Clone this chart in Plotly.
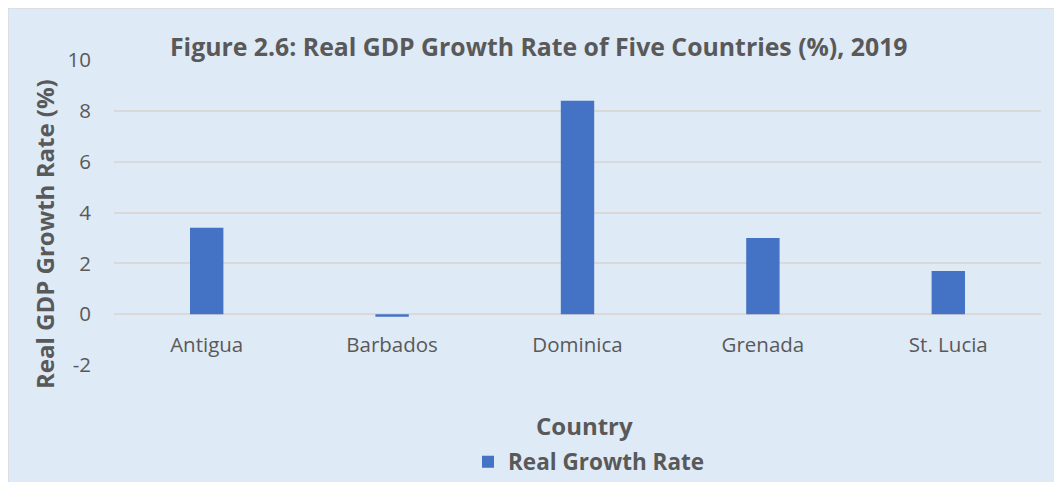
import plotly.graph_objects as go

countries = ["Antigua", "Barbados", "Dominica", "Grenada", "St. Lucia"]
growth = [3.4, -0.1, 8.4, 3.0, 1.7]
y_ticks = [-2, 0, 2, 4, 6, 8, 10]
y_ticktext = ["-2", "0", "2", "4", "6", "8", "10"]
series_name = "Real Growth Rate"
title_text = "Figure 2.6: Real GDP Growth Rate of Five Countries (%), 2019"

FONT = "Open Sans"
GRAY = "#595959"
BG = "#DEEAF6"

fig = go.Figure()
fig.add_trace(go.Bar(x=countries, y=growth, name="<b>" + series_name + "</b>",
                     marker=dict(color="#4472C4", line=dict(width=0)),
                     width=0.18))

OFF = 8  # page body margin
W, H = 1054, 474
L, T = 114 - OFF, 60 - OFF
R = (OFF + W) - 1041
B = (OFF + H) - 365
pw = W - L - R
ph = H - T - B


def px_x(sx):
    return (sx - OFF - L) / pw


def px_y(sy):
    return 1 - (sy - OFF - T) / ph


shapes = [
    dict(type="line", xref="paper", yref="paper", x0=px_x(8.5), x1=px_x(1070),
         y0=px_y(7.5), y1=px_y(7.5), line=dict(color="#D4D4D4", width=2), layer="above"),
    dict(type="line", xref="paper", yref="paper", x0=px_x(7.5), x1=px_x(7.5),
         y0=px_y(490), y1=px_y(7.5), line=dict(color="#D4D4D4", width=2), layer="above"),
]

annotations = [
    dict(text="<b>" + title_text + "</b>", xref="paper", yref="paper",
         x=px_x(539), y=px_y(46), xanchor="center", yanchor="middle",
         showarrow=False, font=dict(family=FONT, size=24.8, color=GRAY)),
    dict(text="<b>Real GDP Growth Rate (%)</b>", xref="paper", yref="paper",
         x=px_x(44), y=px_y(234), xanchor="center", yanchor="middle", textangle=-90,
         showarrow=False, font=dict(family=FONT, size=24, color=GRAY)),
    dict(text="<b>Country</b>", xref="paper", yref="paper",
         x=px_x(584), y=px_y(425), xanchor="center", yanchor="middle",
         showarrow=False, font=dict(family=FONT, size=24, color=GRAY)),
]

fig.update_layout(
    width=W, height=H,
    margin=dict(l=L, r=R, t=T, b=B, autoexpand=False),
    paper_bgcolor=BG, plot_bgcolor=BG,
    font=dict(family=FONT, color=GRAY),
    showlegend=True,
    legend=dict(orientation="h", x=px_x(589), y=px_y(462), xanchor="center", yanchor="middle",
                font=dict(family=FONT, size=22.5, color=GRAY), bgcolor="rgba(0,0,0,0)",
                itemwidth=30),
    shapes=shapes,
    annotations=annotations,
    bargap=0.82,
)
fig.update_yaxes(range=[-2, 10], tickvals=y_ticks, ticktext=y_ticktext, showgrid=True,
                 gridcolor="#D9D9D9", gridwidth=1.5, zeroline=False, showline=False,
                 tickfont=dict(family=FONT, size=20.5, color=GRAY),
                 ticks="", ticklabelstandoff=22)
fig.update_xaxes(anchor="free", position=(0 - (-2)) / 12, showgrid=False, zeroline=False,
                 showline=False, ticks="", tickfont=dict(family=FONT, size=20.5, color=GRAY),
                 ticklabelstandoff=16)

fig.write_html("out.html")
